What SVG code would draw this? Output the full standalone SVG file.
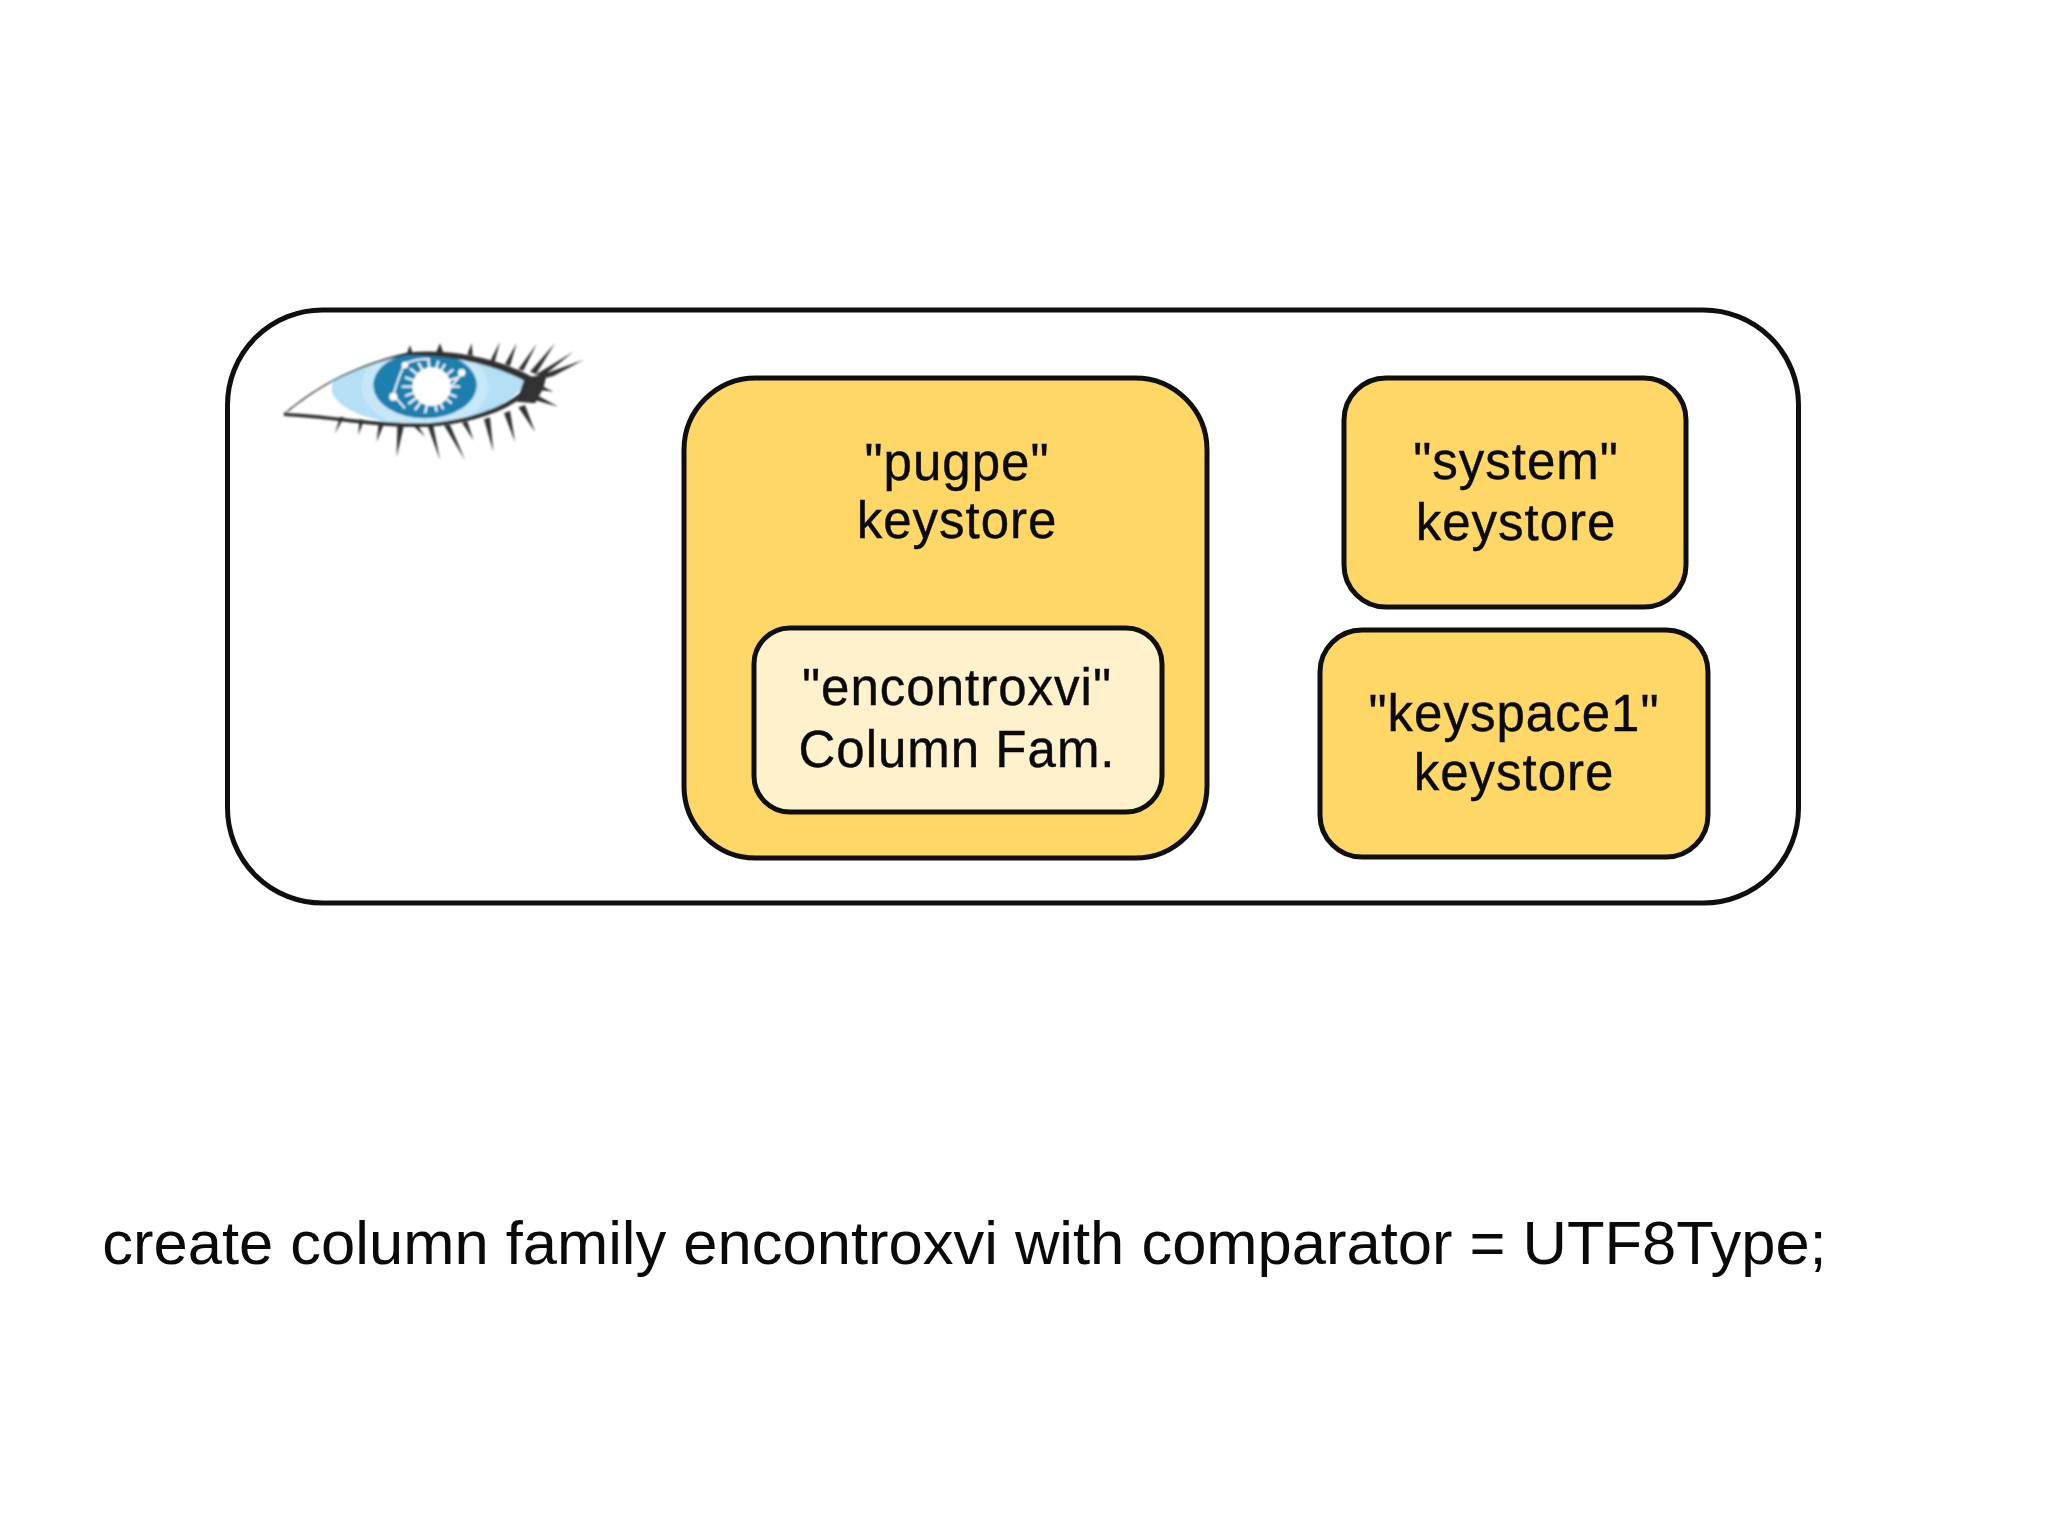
<svg xmlns="http://www.w3.org/2000/svg" width="2048" height="1536" viewBox="0 0 2048 1536">
<defs>
<style>
text{font-family:"Liberation Sans",Arial,sans-serif;fill:#0a0a0a;text-anchor:middle}
.k{font-size:51px;letter-spacing:1px;stroke:#0a0a0a;stroke-width:.4px}
.box{stroke:#0f0f0f;stroke-width:5}
.y{fill:#ffd766}
</style>
<clipPath id="eyeclip"><path d="M75 278C150 215 260 140 440 100C560 90 700 115 805 175C770 250 650 300 500 315C350 318 220 290 75 282Z"/></clipPath>
<filter id="soft" x="-5%" y="-5%" width="110%" height="110%"><feGaussianBlur stdDeviation="2.500"/></filter>
</defs>
<rect width="2048" height="1536" fill="#fff"/>
<g id="cluster"><rect class="box" x="227.500" y="310" width="1571" height="593" rx="95" fill="#fff"/></g>
<g id="eye" transform="translate(260 320) scale(.33333)" filter="url(#soft)">
<g clip-path="url(#eyeclip)">
<ellipse cx="510" cy="205" rx="295" ry="112" fill="#b4dff5"/>
<ellipse cx="495" cy="200" rx="190" ry="125" fill="#c6e7f8"/>
<ellipse cx="495" cy="195" rx="155" ry="100" fill="#1b7fae"/>
<path d="M515 200L600 200M515 200L590 231M515 200L575 250M515 200L550 268M515 200L530 275M515 200L495 280M515 200L465 270M515 200L445 252M515 200L435 228M515 200L425 200M515 200L435 172M515 200L450 145M515 200L475 128M515 200L505 120M515 200L535 122M515 200L555 132M515 200L580 148M515 200L595 172" stroke="#e8f5fb" stroke-width="7"/>
<circle cx="515" cy="200" r="58" fill="#fff"/>
<path d="M435 130C420 160 410 190 400 225L435 265M435 130C470 118 490 115 510 118M605 160L570 205" fill="none" stroke="#e8f5fb" stroke-width="6"/>
<circle cx="435" cy="135" r="10" fill="#fff"/><circle cx="400" cy="230" r="12" fill="#fff"/><circle cx="605" cy="158" r="11" fill="#fff"/>
</g>
<path d="M72 280C150 215 260 140 440 98C565 85 710 112 815 170L800 186C700 130 560 104 440 106C270 140 160 215 88 272Z" fill="#333"/>
<path d="M70 278C220 285 350 312 500 310C650 298 760 250 810 190L820 205C760 265 650 310 500 321C350 325 220 296 72 288Z" fill="#333"/>
<path d="M795 172L860 165 850 205 825 250 770 245Z" fill="#333"/>
<path fill="#333" d="M440 102L450 75 458 100ZM528 98L540 70 550 98ZM622 103L635 70 638 108ZM692 120L720 65 704 126ZM735 132L770 70 750 138ZM775 148L830 72 790 152ZM810 155L885 70 828 162ZM825 165L940 95 850 168ZM835 168L970 120 880 168 835 180ZM840 195L880 215 838 210ZM830 225L895 260 815 238ZM795 255L825 335 775 262ZM750 272L765 365 732 280ZM690 292L700 395 672 298ZM622 304L640 360 606 308ZM570 314L615 420 552 316ZM520 318L540 420 503 318ZM475 318L495 350 460 318ZM432 316L410 410 412 316ZM372 312L350 365 356 310ZM312 300L295 345 298 298ZM252 292L225 340 240 290Z"/>
</g>
<g id="pugpe">
<rect class="box y" x="684" y="378" width="523" height="480" rx="72"/>
<text class="k" x="957" y="480">"pugpe"</text>
<text class="k" x="957" y="538">keystore</text>
</g>
<g id="encontroxvi">
<rect class="box" x="754" y="628" width="408" height="184" rx="36" fill="#fff1cc"/>
<text class="k" x="957" y="705">"encontroxvi"</text>
<text class="k" x="957" y="767">Column Fam.</text>
</g>
<g id="system">
<rect class="box y" x="1344" y="378" width="342" height="229" rx="42"/>
<text class="k" x="1516" y="479">"system"</text>
<text class="k" x="1516" y="540">keystore</text>
</g>
<g id="keyspace1">
<rect class="box y" x="1320" y="630" width="388" height="227" rx="42"/>
<text class="k" x="1514" y="731">"keyspace1"</text>
<text class="k" x="1514" y="790">keystore</text>
</g>
<g id="connectors"/>
<text x="964.500" y="1264" font-size="61.500">create column family encontroxvi with comparator = UTF8Type;</text>
</svg>
